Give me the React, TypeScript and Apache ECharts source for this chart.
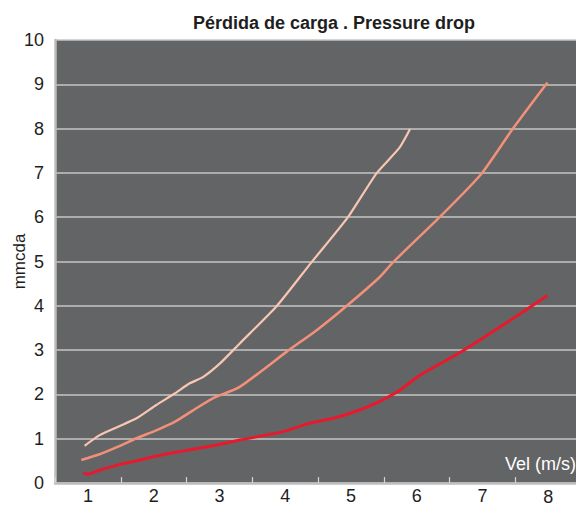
import React, { useEffect, useRef } from "react";
import * as echarts from "echarts";

const title = "Pérdida de carga . Pressure drop";
const yName = "mmcda";
const xName = "Vel (m/s)";
const categories = ["1", "2", "3", "4", "5", "6", "7", "8"];

const peachX = [0.95, 1.18, 1.46, 1.74, 2.04, 2.32, 2.55, 2.75, 3.01, 3.31, 3.87, 4.4, 4.95, 5.39, 5.74, 5.9];
const peachY = [0.84, 1.08, 1.27, 1.46, 1.76, 2.02, 2.25, 2.39, 2.7, 3.15, 3.99, 4.98, 5.99, 6.99, 7.57, 7.99];

const orangeX = [0.9, 1.18, 1.46, 1.74, 2.04, 2.32, 2.6, 2.9, 3.31, 4.02, 4.48, 4.93, 5.44, 5.64, 6.35, 6.98, 7.46, 7.99];
const orangeY = [0.52, 0.65, 0.82, 1.01, 1.19, 1.38, 1.64, 1.91, 2.17, 2.96, 3.45, 3.99, 4.65, 4.98, 6.0, 6.97, 7.99, 9.04];

const redX = [0.93, 1.0, 1.18, 1.46, 1.74, 2.04, 2.32, 2.6, 2.9, 3.31, 3.97, 4.32, 4.73, 5.08, 5.39, 5.74, 6.05, 6.7, 7.36, 7.99];
const redY = [0.23, 0.2, 0.29, 0.41, 0.5, 0.61, 0.69, 0.76, 0.84, 0.97, 1.16, 1.33, 1.46, 1.62, 1.81, 2.09, 2.43, 2.98, 3.61, 4.23];

const zip = (xs: number[], ys: number[]) => xs.map((x, i) => [x, ys[i]]);

const FONT = "'Liberation Sans', Arial, sans-serif";

export default function App() {
  const ref = useRef<HTMLDivElement>(null);
  useEffect(() => {
    if (!ref.current) return;
    const chart = echarts.init(ref.current, null, { renderer: "svg" });
    const lbl = { fontFamily: FONT, fontSize: 18, color: "#1e1e1e" };
    chart.setOption({
      animation: false,
      backgroundColor: "#ffffff",
      title: {
        text: title,
        left: 329,
        top: 9,
        textAlign: "center",
        textStyle: { fontFamily: FONT, fontSize: 18, fontWeight: "bold", color: "#1e1e1e" },
      },
      grid: {
        left: 55,
        right: -5,
        top: 40,
        bottom: 25,
        containLabel: false,
        outerBoundsMode: "none",
        show: true,
        backgroundColor: "#636466",
        borderWidth: 0,
      },
      xAxis: [
        {
          type: "category",
          data: categories,
          boundaryGap: true,
          axisLine: { show: true, lineStyle: { color: "#bdbdbd", width: 2.5 } },
          axisTick: { show: true, inside: true, interval: 0, length: 6, lineStyle: { color: "#d4d4d4", width: 1.2 } },
          splitLine: { show: false },
          axisLabel: {
            ...lbl,
            interval: 0,
            margin: 4,
            lineHeight: 18,
            formatter: (v: string) => (v === "8" ? "{low|" + v + "}" : v),
            rich: { low: { ...lbl, lineHeight: 18, padding: [2, 0, 0, 0] } },
          },
        },
        {
          type: "value",
          min: 0.5,
          max: 8.5,
          show: false,
          splitLine: { show: false },
        },
      ],
      yAxis: {
        type: "value",
        min: 0,
        max: 10,
        interval: 1,
        name: yName,
        nameLocation: "middle",
        nameRotate: 90,
        nameGap: 27,
        nameMoveOverlap: false,
        nameTextStyle: { fontFamily: FONT, fontSize: 17, color: "#1e1e1e" },
        axisLine: { show: true, lineStyle: { color: "#bdbdbd", width: 2.5 } },
        axisTick: { show: false },
        axisLabel: { ...lbl, margin: 11 },
        splitLine: { show: true, lineStyle: { color: "#c6c6c6", width: 1.5 } },
      },
      graphic: [
        {
          type: "text",
          right: 0,
          top: 455,
          style: { text: xName, fill: "#ffffff", font: `18px ${FONT}` },
        },
      ],
      series: [
        {
          type: "line",
          xAxisIndex: 1,
          data: zip(peachX, peachY),
          showSymbol: false,
          smooth: 0.2,
          lineStyle: { color: "#f8c6b2", width: 2.2 },
        },
        {
          type: "line",
          xAxisIndex: 1,
          data: zip(orangeX, orangeY),
          showSymbol: false,
          smooth: 0.2,
          lineStyle: { color: "#f2907a", width: 2.5 },
        },
        {
          type: "line",
          xAxisIndex: 1,
          data: zip(redX, redY),
          showSymbol: false,
          smooth: 0.2,
          lineStyle: { color: "#e8192c", width: 3 },
        },
      ],
    });
    return () => chart.dispose();
  }, []);
  return (
    <div
      ref={ref}
      style={{ position: "absolute", left: 0, top: 0, width: 576, height: 508 }}
    />
  );
}
